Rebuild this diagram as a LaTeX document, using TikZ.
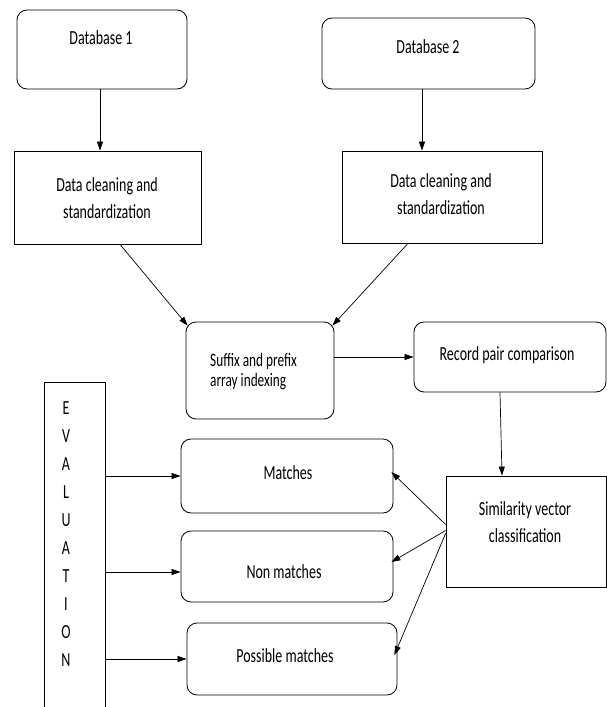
\documentclass[tikz,border=0pt]{standalone}
\usepackage{fontspec}
\setmainfont{Carlito}[FakeStretch=0.7]
\usetikzlibrary{arrows.meta,calc}
\begin{document}
\begin{tikzpicture}[x=1pt,y=-1pt,
  rbox/.style={draw, rounded corners=10pt, line width=0.8pt, inner sep=0pt},
  sbox/.style={draw, line width=0.8pt, inner sep=0pt},
  lbl/.style={font=\fontsize{20}{27}\selectfont, inner sep=0pt, align=center},
  slbl/.style={font=\fontsize{19}{20}\selectfont, inner sep=0pt, align=left},
  arr/.style={-{Triangle[length=9pt,width=6pt]}, line width=0.7pt}]
\useasboundingbox (0,0) rectangle (607,707);
\clip (0,0) rectangle (607,707);
% boxes
\node[rbox, minimum width=170pt, minimum height=79pt] (db1) at (102,49.5) {};
\node[rbox, minimum width=213pt, minimum height=71pt] (db2) at (428.5,53.5) {};
\node[sbox, minimum width=187pt, minimum height=93pt] (dc1) at (107.5,197.5) {};
\node[sbox, minimum width=200pt, minimum height=92pt] (dc2) at (442,197) {};
\node[rbox, minimum width=148pt, minimum height=97pt] (suf) at (260,370.5) {};
\node[rbox, minimum width=192pt, minimum height=70pt] (rec) at (510,357) {};
\node[sbox, minimum width=160pt, minimum height=111pt] (sim) at (526,531.5) {};
\node[sbox, minimum width=61pt, minimum height=330pt] (eval) at (74.5,547) {};
\node[rbox, minimum width=212pt, minimum height=74pt] (match) at (287,476) {};
\node[rbox, minimum width=212pt, minimum height=71pt] (non) at (287,566.5) {};
\node[rbox, minimum width=210pt, minimum height=72pt] (poss) at (292,659) {};
% texts
\node[lbl] (tdb1) at (101,38) {Database 1};
\node[lbl] (tdb2) at (428,47) {Database 2};
\node[lbl] (tdc1) at (107,198) {Data cleaning and\\standardization};
\node[lbl] (tdc2) at (441,194) {Data cleaning and\\standardization};
\node[slbl, anchor=west] (tsuf) at (210,372) {Suffix and prefix\\array indexing};
\node[lbl] (trec) at (507,355) {Record pair comparison};
\node[lbl] (tsim) at (525,522) {Similarity vector\\classification};
\node[lbl] (tmatch) at (288,473) {Matches};
\node[lbl] (tnon) at (284,572) {Non matches};
\node[lbl] (tposs) at (285,656) {Possible matches};
\foreach \l [count=\i] in {E,V,A,L,U,A,T,I,O,N}
  \node[lbl] (ev\i) at (66,{408+28*(\i-1)}) {\l};
% connectors
\draw[arr] ([xshift=-2pt]db1.south) -- ([xshift=-7.5pt]dc1.north);
\draw[arr] ([xshift=-6.5pt]db2.south) -- ([xshift=-20pt]dc2.north);
\draw[arr] ($(dc1.south)+(12.5,0)$) -- ($(suf.north west)+(2,4)$);
\draw[arr] ($(dc2.south)+(-34,0)$) -- ($(suf.north east)+(-2,4)$);
\draw[arr] (suf.east |- rec.west) -- (rec.west);
\draw[arr] ($(rec.south)+(-10,0)$) -- ($(sim.north)+(-24,0)$);
\draw[arr] (eval.east |- match.west) -- (match.west);
\draw[arr] ($(eval.east |- non.west)+(0,5.5)$) -- ($(non.west)+(0,5.5)$);
\draw[arr] (eval.east |- poss.west) -- (poss.west);
\draw[arr] ($(sim.west)+(0,-7)$) -- ($(match.east)+(-2,-4)$);
\draw[arr] ($(sim.west)+(0,-1)$) -- ($(non.east)+(-2,-4.5)$);
\draw[arr] ($(sim.west)+(0,2)$) -- ($(poss.east)+(-3,-4)$);
\end{tikzpicture}
\end{document}
